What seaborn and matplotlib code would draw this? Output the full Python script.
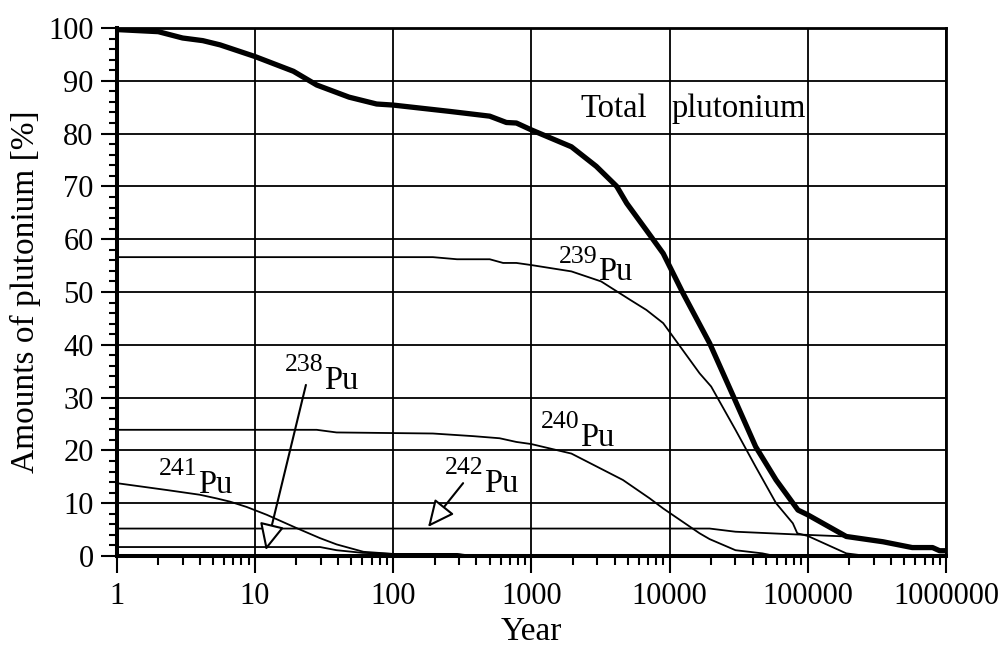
import numpy as np
import pandas as pd
import matplotlib
matplotlib.use("Agg")
import matplotlib.pyplot as plt
import matplotlib.ticker as mticker
import seaborn as sns

# Values
year_total = [1, 2, 3, 4.2, 5.6, 10, 19, 28, 48, 76, 100, 257, 500, 660, 780, 1000,
              1950, 2950, 4150, 4900, 6800, 9000, 12500, 19500, 29000, 42000, 59000,
              85000, 100000, 190000, 350000, 570000, 800000, 900000, 1000000]
pct_total = [99.7, 99.3, 98.1, 97.6, 96.8, 94.6, 91.8, 89.2, 86.9, 85.6, 85.4, 84.2,
             83.3, 82.1, 82.0, 80.7, 77.5, 73.8, 70.0, 66.8, 61.7, 57.3, 49.8, 40.3,
             30.2, 20.7, 14.4, 8.7, 7.8, 3.7, 2.7, 1.6, 1.6, 1.0, 1.0]

year_239 = [1, 194, 290, 500, 625, 780, 1000, 1950, 3200, 5200, 6800, 9000, 16500,
            20000, 30000, 42000, 59000, 78000, 84000, 100000, 190000, 270000]
pct_239 = [56.6, 56.6, 56.2, 56.2, 55.5, 55.5, 55.1, 53.9, 52.0, 48.5, 46.6, 44.1, 34.6,
           32.1, 23.9, 16.9, 10.0, 6.2, 4.3, 3.8, 0.5, 0.0]

year_240 = [1, 28, 39, 194, 380, 590, 780, 1000, 1950, 4600, 7200, 9000, 16500, 19500,
            30000, 47000, 58000]
pct_240 = [23.9, 23.9, 23.4, 23.2, 22.7, 22.3, 21.6, 21.2, 19.4, 14.4, 10.9, 9.0, 4.3,
           3.2, 1.1, 0.5, 0.0]

year_241 = [1, 2.3, 4, 5.3, 6.6, 8.7, 12.2, 20, 29.5, 39, 61, 100, 290, 380]
pct_241 = [13.8, 12.5, 11.6, 10.9, 10.3, 9.3, 7.8, 5.3, 3.4, 2.2, 0.8, 0.4, 0.4, 0.0]

year_238 = [1, 29.6, 39, 60, 95, 290, 380]
pct_238 = [1.7, 1.7, 1.1, 0.6, 0.4, 0.3, 0.0]

year_242 = [1, 19500, 30000, 80000, 190000, 350000, 570000, 800000, 900000, 1000000]
pct_242 = [5.2, 5.2, 4.6, 4.1, 3.7, 2.7, 1.6, 1.6, 1.0, 1.0]

x_ticks = [1, 10, 100, 1000, 10000, 100000, 1000000]
x_tick_labels = ["1", "10", "100", "1000", "10000", "100000", "1000000"]
y_ticks = list(range(0, 101, 10))

# isotope labels: (mass number, anchor year, anchor percent)
iso_labels = [("239", 1585, 55.5), ("240", 1170, 24.2), ("242", 237, 15.5),
              ("238", 16.5, 35.0), ("241", 2.02, 15.3)]
# arrows: (start year, start pct, tip year, tip pct)
arrows = [(321, 13.8, 179, 5.5), (23.4, 32.4, 12.0, 1.1)]

frames = []
for name, xs, ys in [("Total", year_total, pct_total), ("239", year_239, pct_239),
                     ("240", year_240, pct_240), ("241", year_241, pct_241),
                     ("238", year_238, pct_238), ("242", year_242, pct_242)]:
    frames.append(pd.DataFrame({"Year": xs, "Pct": ys, "Isotope": name}))
df = pd.concat(frames, ignore_index=True)

sns.set_style("ticks")
plt.rcParams["font.family"] = ["Liberation Serif", "DejaVu Serif"]
plt.rcParams["text.color"] = "black"
plt.rcParams["axes.labelcolor"] = "black"
plt.rcParams["xtick.color"] = "black"
plt.rcParams["ytick.color"] = "black"

fig = plt.figure(figsize=(10.04, 6.46), dpi=100)
ax = fig.add_axes([0.1162, 0.1393, 0.8260, 0.8174])

palette = {k: "black" for k in df["Isotope"].unique()}
sizes = {k: 1.3 for k in df["Isotope"].unique()}
sizes["Total"] = 3.8
sns.lineplot(data=df, x="Year", y="Pct", hue="Isotope", size="Isotope",
             palette=palette, sizes=sizes, estimator=None, sort=False,
             legend=False, ax=ax, zorder=3)

ax.set_xscale("log")
ax.set_xlim(1, 1e6)
ax.set_ylim(0, 100)
ax.set_xticks(x_ticks)
ax.set_xticklabels(x_tick_labels)
ax.xaxis.set_minor_locator(mticker.LogLocator(base=10, subs=np.arange(2, 10), numticks=20))
ax.xaxis.set_minor_formatter(mticker.NullFormatter())
ax.set_yticks(y_ticks)
ax.yaxis.set_minor_locator(mticker.MultipleLocator(2))

ax.grid(True, which="major", color="black", linewidth=1.3)
ax.set_axisbelow(True)

for side in ["left", "bottom"]:
    ax.spines[side].set_linewidth(2.9)
for side in ["top", "right"]:
    ax.spines[side].set_linewidth(2.0)
for s in ax.spines.values():
    s.set_color("black")

ax.tick_params(axis="both", which="major", direction="out", width=1.5, labelsize=22)
ax.tick_params(axis="y", which="major", length=11.5, pad=5)
ax.tick_params(axis="x", which="major", length=12, pad=7)
ax.tick_params(axis="y", which="minor", direction="out", length=6, width=1.5)
ax.tick_params(axis="x", which="minor", direction="out", length=6.5, width=1.5)

ax.set_xlabel("Year", fontsize=24, labelpad=4)
ax.set_ylabel("Amounts of plutonium [%]", fontsize=24, labelpad=5)

ax.text(2249, 83.1, "Total", fontsize=23.5, ha="left", va="baseline")
ax.text(10300, 83.1, "plutonium", fontsize=23.5, ha="left", va="baseline")

for num, xv, yv in iso_labels:
    ax.text(xv, yv, num, fontsize=18.5, ha="left", va="baseline")
    ax.annotate("Pu", xy=(xv, yv), xytext=(28.5, -12.5), textcoords="offset points",
                fontsize=23.5, ha="left", va="baseline")

for x0, y0, x1, y1 in arrows:
    ax.annotate("", xy=(x1, y1), xytext=(x0, y0),
                arrowprops=dict(arrowstyle="-|>,head_length=1.64,head_width=0.77",
                                fc="white", ec="black", lw=1.5, mutation_scale=10,
                                shrinkA=0, shrinkB=0), zorder=5)

fig.savefig("out.png", dpi=100)
